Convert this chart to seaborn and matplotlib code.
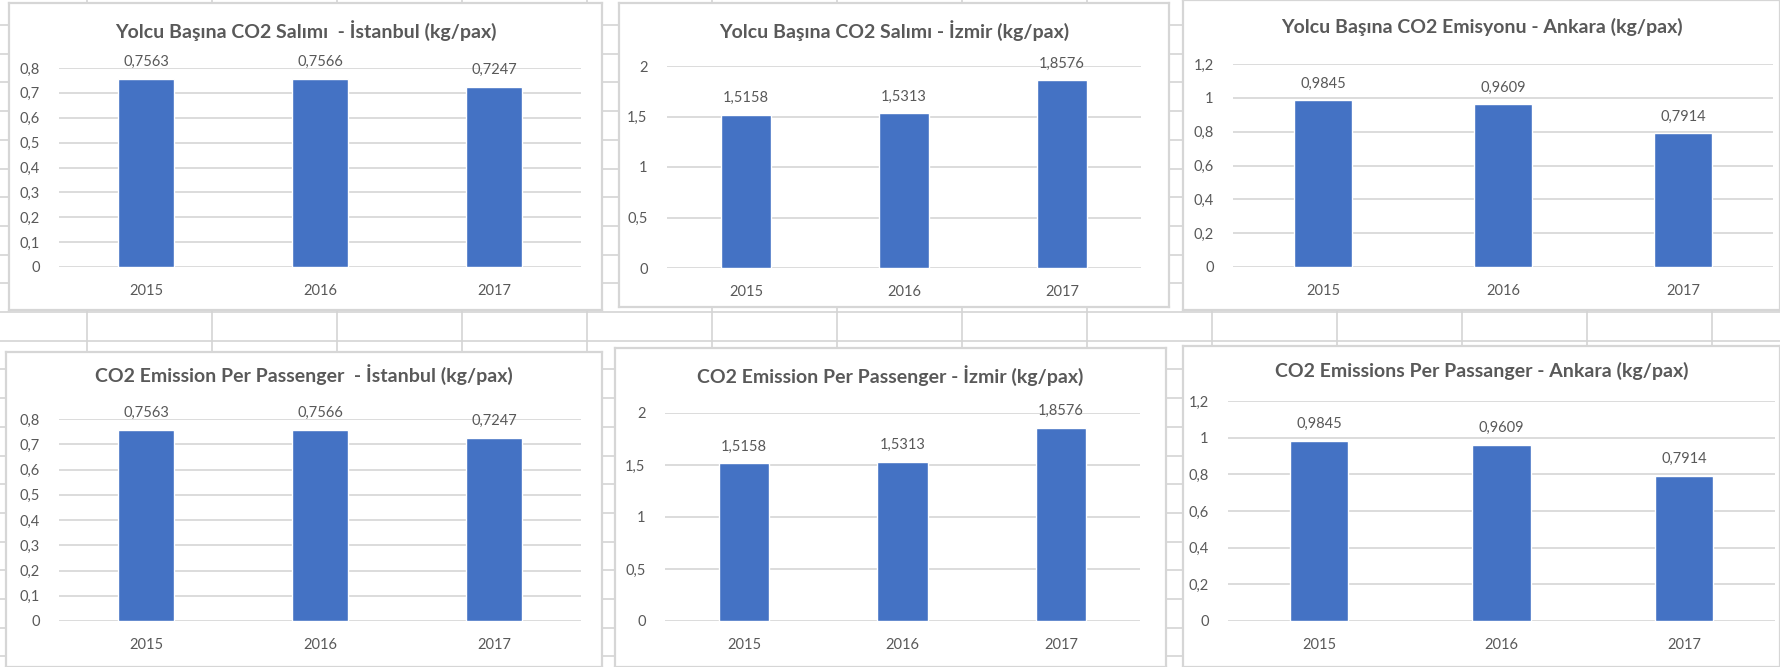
import numpy as np
import pandas as pd
import matplotlib
matplotlib.use("Agg")
import matplotlib.pyplot as plt
import seaborn as sns

years = ["2015", "2016", "2017"]
istanbul = [0.7563, 0.7566, 0.7247]
izmir = [1.5158, 1.5313, 1.8576]
ankara = [0.9845, 0.9609, 0.7914]

titles_tr = ["Yolcu Başına CO2 Salımı  - İstanbul (kg/pax)",
             "Yolcu Başına CO2 Salımı - İzmir (kg/pax)",
             "Yolcu Başına CO2 Emisyonu - Ankara (kg/pax)"]
titles_en = ["CO2 Emission Per Passenger  - İstanbul (kg/pax)",
             "CO2 Emission Per Passenger - İzmir (kg/pax)",
             "CO2 Emissions Per Passanger - Ankara (kg/pax)"]

y_max = [0.8, 2, 1.2]
y_step = [0.1, 0.5, 0.2]

W, H = 1780, 667
BAR = "#4472C4"
TXT = "#595959"
GRID = "#D9D9D9"


def box(x0, y0, x1, y1):
    # pixel box (top-left origin) -> figure fraction
    return [x0 / W, 1 - y1 / H, (x1 - x0) / W, (y1 - y0) / H]


def tr_num(v, fmt="{:g}"):
    return fmt.format(v).replace(".", ",")


def main():
    sns.set_theme(style="white")
    plt.rcParams["font.family"] = ["Lato", "DejaVu Sans"]

    fig = plt.figure(figsize=(17.8, 6.67), dpi=100)
    fig.patch.set_facecolor("white")

    # spreadsheet cells behind the charts
    bg = fig.add_axes([0, 0, 1, 1], zorder=-10)
    bg.set_xlim(0, W)
    bg.set_ylim(H, 0)
    bg.axis("off")
    for x in np.arange(87, W, 125):
        bg.axvline(x, color="#D4D4D4", lw=1.2)
    for y in np.arange(25, H, 28.7):
        bg.axhline(y, color="#D4D4D4", lw=1.2)

    # frames (x0, y0, x1, y1) and plot areas
    frames = [(9, 3, 602, 310), (619, 3, 1169, 307), (1183, 0, 1780, 310),
              (6, 352, 602, 667), (615, 348, 1166, 667), (1183, 346, 1780, 667)]
    areas = [(59, 68, 581, 267), (667, 66, 1141, 268), (1233, 64, 1773, 267),
             (59, 419, 581, 621), (665, 413, 1140, 621), (1228, 401, 1775, 621)]
    title_y = [31, 31, 27, 375, 376, 371]

    data = [istanbul, izmir, ankara] * 2
    titles = titles_tr + titles_en

    for i in range(6):
        fx0, fy0, fx1, fy1 = frames[i]
        fr = fig.add_axes(box(*frames[i]), zorder=-5)
        fr.set_xticks([])
        fr.set_yticks([])
        fr.set_facecolor("white")
        for s in fr.spines.values():
            s.set_color("#D6D6D6")
            s.set_linewidth(1.6)

        k = i % 3
        ax = fig.add_axes(box(*areas[i]))
        ax.set_facecolor("none")
        df = pd.DataFrame({"year": years, "value": data[i]})
        sns.barplot(data=df, x="year", y="value", color=BAR, saturation=1,
                    width=0.32, ax=ax, zorder=3)
        ax.set_xlim(-0.5, 2.5)
        ax.set_ylim(0, y_max[k])
        ticks = np.arange(0, y_max[k] + 1e-9, y_step[k])
        ax.set_yticks(ticks)
        ax.set_yticklabels([tr_num(round(t, 2)) for t in ticks])
        ax.grid(axis="y", color=GRID, lw=1.3, zorder=0)
        ax.set_xlabel("")
        ax.set_ylabel("")
        sns.despine(ax=ax, left=True, bottom=True, top=True, right=True)
        ax.tick_params(axis="y", length=0, pad=14, labelsize=10.5, labelcolor=TXT)
        ax.tick_params(axis="x", length=0, pad=12, labelsize=10.5, labelcolor=TXT)
        ax.bar_label(ax.containers[0],
                     labels=[tr_num(v, "{:.4f}") for v in data[i]],
                     padding=7, fontsize=10.5, color=TXT)

        fig.text((fx0 + fx1) / 2 / W, 1 - title_y[i] / H, titles[i],
                 ha="center", va="center", fontsize=14, fontweight="bold",
                 color=TXT)

    fig.savefig("out.png", dpi=100, facecolor="white")


if __name__ == "__main__":
    main()
